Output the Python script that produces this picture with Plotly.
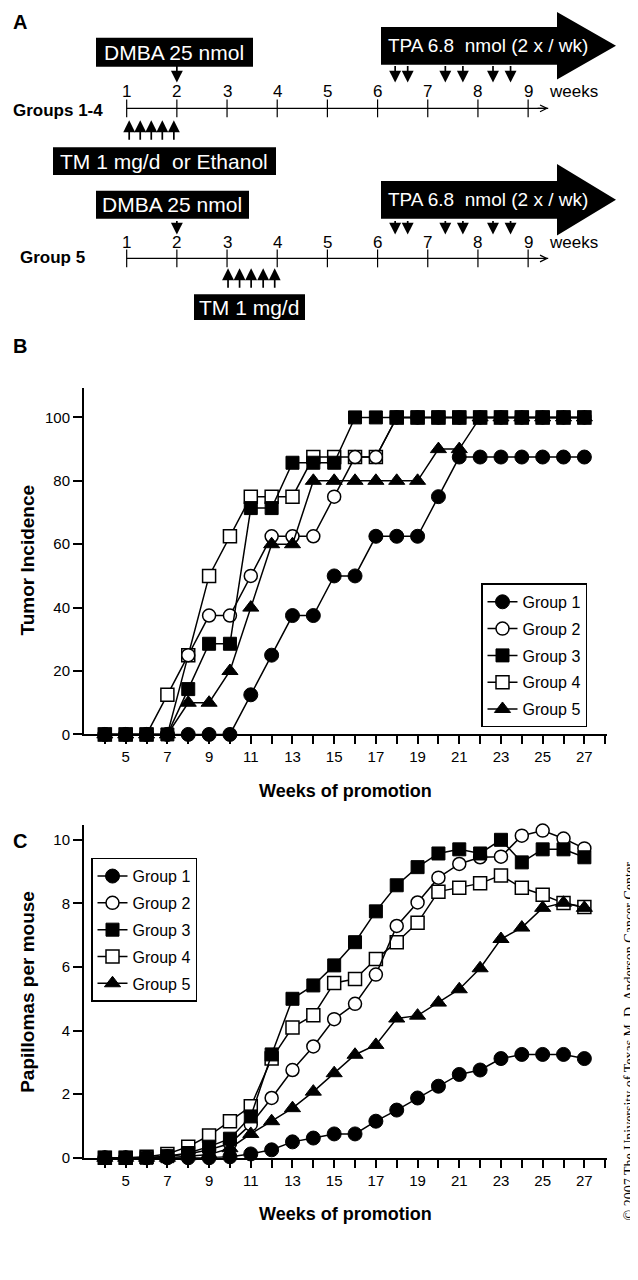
import plotly.graph_objects as go

W, H = 638, 1280
FONT = "Liberation Sans, Arial, Helvetica, sans-serif"
SERIF = "Liberation Serif, Times New Roman, serif"

# ---------------- data ----------------
weeks = list(range(4, 28))
group_names = ["Group 1", "Group 2", "Group 3", "Group 4", "Group 5"]

# Panel B: tumor incidence (%)
inc_g1 = [0, 0, 0, 0, 0, 0, 0, 12.5, 25, 37.5, 37.5, 50, 50, 62.5, 62.5, 62.5, 75, 87.5, 87.5, 87.5, 87.5, 87.5, 87.5, 87.5]
inc_g2 = [0, 0, 0, 0, 25, 37.5, 37.5, 50, 62.5, 62.5, 62.5, 75, 87.5, 87.5, 100, 100, 100, 100, 100, 100, 100, 100, 100, 100]
inc_g3 = [0, 0, 0, 0, 14.3, 28.6, 28.6, 71.4, 71.4, 85.7, 85.7, 85.7, 100, 100, 100, 100, 100, 100, 100, 100, 100, 100, 100, 100]
inc_g4 = [0, 0, 0, 12.5, 25, 50, 62.5, 75, 75, 75, 87.5, 87.5, 87.5, 87.5, 100, 100, 100, 100, 100, 100, 100, 100, 100, 100]
inc_g5 = [0, 0, 0, 0, 10, 10, 20, 40, 60, 60, 80, 80, 80, 80, 80, 80, 90, 90, 100, 100, 100, 100, 100, 100]

# Panel C: papillomas per mouse
pap_g1 = [0, 0, 0, 0, 0, 0, 0.03, 0.12, 0.25, 0.5, 0.62, 0.75, 0.75, 1.15, 1.5, 1.88, 2.25, 2.62, 2.76, 3.12, 3.25, 3.25, 3.25, 3.12]
pap_g2 = [0, 0, 0, 0.05, 0.12, 0.25, 0.45, 1.05, 1.88, 2.76, 3.5, 4.36, 4.84, 5.76, 7.29, 8.03, 8.81, 9.24, 9.45, 9.47, 10.13, 10.29, 10.04, 9.73]
pap_g3 = [0, 0, 0, 0.05, 0.15, 0.35, 0.6, 1.3, 3.25, 5.0, 5.42, 6.05, 6.78, 7.75, 8.57, 9.14, 9.57, 9.7, 9.57, 10.0, 9.29, 9.7, 9.7, 9.45]
pap_g4 = [0, 0, 0.03, 0.12, 0.35, 0.7, 1.15, 1.62, 3.12, 4.1, 4.48, 5.5, 5.62, 6.25, 6.78, 7.39, 8.37, 8.49, 8.63, 8.88, 8.49, 8.27, 8.01, 7.89]
pap_g5 = [0, 0, 0, 0, 0.05, 0.1, 0.3, 0.75, 1.15, 1.56, 2.08, 2.66, 3.24, 3.55, 4.38, 4.47, 4.88, 5.3, 5.96, 6.88, 7.24, 7.86, 8.02, 7.86]

x_tick_weeks = list(range(4, 29))
x_tick_labels = ["5", "7", "9", "11", "13", "15", "17", "19", "21", "23", "25", "27"]
inc_ticks = [0, 20, 40, 60, 80, 100]
pap_ticks = [0, 2, 4, 6, 8, 10]

# Panel A: protocol timeline (weeks)
timeline_weeks = [1, 2, 3, 4, 5, 6, 7, 8, 9]
dmba_week = 2
tm_weeks_g14 = [1.05, 1.27, 1.49, 1.71, 1.94]
tm_weeks_g5 = [3.02, 3.25, 3.48, 3.72, 3.95]
tpa_weeks = [6.35, 6.6, 7.35, 7.7, 8.3, 8.65]

# ---------------- helpers ----------------
def X(p):
    return p / W

def Y(p):
    return 1 - p / H

fig = go.Figure()

styles = [
    dict(symbol="circle", color="black", size=14, lw=1),
    dict(symbol="circle", color="white", size=13, lw=1.5),
    dict(symbol="square", color="black", size=13, lw=1),
    dict(symbol="square", color="white", size=13, lw=1.5),
    dict(symbol="triangle-up", color="black", size=14, lw=1),
]
draw_order = [3, 1, 4, 0, 2]

panels = [
    ([inc_g1, inc_g2, inc_g3, inc_g4, inc_g5], "x", "y", "legend"),
    ([pap_g1, pap_g2, pap_g3, pap_g4, pap_g5], "x2", "y2", "legend2"),
]
for series, xa, ya, leg in panels:
    for i in draw_order:
        s = styles[i]
        fig.add_trace(go.Scatter(
            x=weeks, y=series[i], mode="lines+markers", name=group_names[i],
            line=dict(color="black", width=1.5),
            marker=dict(symbol=s["symbol"], size=s["size"], color=s["color"],
                        line=dict(color="black", width=s["lw"])),
            xaxis=xa, yaxis=ya, legend=leg, legendrank=i + 1,
            legendgroup=f"{leg}_{i}", cliponaxis=False, hoverinfo="skip",
        ))

# dummy trace for protocol axis
fig.add_trace(go.Scatter(x=[timeline_weeks[0]], y=[0.5], mode="markers",
                         marker=dict(size=1, opacity=0), xaxis="x3", yaxis="y3",
                         showlegend=False, hoverinfo="skip"))

ax_common = dict(showline=True, linecolor="black", linewidth=2, ticks="outside",
                 tickcolor="black", tickwidth=2, showgrid=False, zeroline=False,
                 tickfont=dict(size=15, family=FONT, color="black"),
                 layer="below traces", fixedrange=True)

xticktext = [str(w) if str(w) in x_tick_labels else "" for w in x_tick_weeks]
xdom = [76 / W, 599.3 / W]

fig.update_layout(
    width=W, height=H, margin=dict(l=0, r=0, t=0, b=0),
    paper_bgcolor="white", plot_bgcolor="white",
    font=dict(family=FONT, color="black", size=15),
    xaxis=dict(ax_common, domain=xdom, range=[3, 28.1], tickvals=x_tick_weeks,
               ticktext=xticktext, ticklen=8, anchor="y"),
    yaxis=dict(ax_common, domain=[Y(731), Y(382)], range=[0, 109.4],
               tickvals=inc_ticks, ticklen=9, anchor="x"),
    xaxis2=dict(ax_common, domain=xdom, range=[3, 28.1], tickvals=x_tick_weeks,
                ticktext=xticktext, ticklen=8, anchor="y2"),
    yaxis2=dict(ax_common, domain=[Y(1157), Y(822)], range=[0, 10.47],
                tickvals=pap_ticks, ticklen=9, anchor="x2"),
    xaxis3=dict(domain=[0, 1], range=[-1.365, 11.349], visible=False, anchor="y3", fixedrange=True),
    yaxis3=dict(domain=[Y(300), 1], range=[0, 1], visible=False, anchor="x3", fixedrange=True),
    legend=dict(x=X(473), y=Y(579), xanchor="left", yanchor="top",
                bordercolor="black", borderwidth=1.5, bgcolor="white",
                font=dict(size=16, family=FONT), tracegroupgap=3),
    legend2=dict(x=X(83), y=Y(855), xanchor="left", yanchor="top",
                 bordercolor="black", borderwidth=1.5, bgcolor="white",
                 font=dict(size=16, family=FONT), tracegroupgap=3),
)

shapes = []
ann = []

def rect(x0, y0, x1, y1):
    shapes.append(dict(type="rect", xref="paper", yref="paper", x0=X(x0), x1=X(x1),
                       y0=Y(y1), y1=Y(y0), fillcolor="black", line=dict(width=0), layer="above"))

def big_arrow(x0, xh, xt, yb0, yb1, yh0, yh1):
    ym = (yh0 + yh1) / 2
    pts = [(x0, yb0), (xh, yb0), (xh, yh0), (xt, ym), (xh, yh1), (xh, yb1), (x0, yb1)]
    path = "M" + " L".join(f"{X(a):.5f},{Y(b):.5f}" for a, b in pts) + " Z"
    shapes.append(dict(type="path", xref="paper", yref="paper", path=path,
                       fillcolor="black", line=dict(width=0), layer="above"))

def text(x, y, s, size=17, color="black", bold=False, xanchor="center", xref="paper", angle=0, family=FONT):
    ann.append(dict(x=x if xref != "paper" else X(x), y=Y(y), xref=xref, yref="paper", text=s,
                    showarrow=False, xanchor=xanchor, yanchor="middle", textangle=angle,
                    font=dict(size=size, color=color, family=family,
                              weight="bold" if bold else "normal")))

def dose_arrow(w, y_head, length, up=False):
    ann.append(dict(x=w, y=Y(y_head), xref="x3", yref="paper", ax=0,
                    ay=(length if up else -length), axref="pixel", ayref="pixel",
                    text="", showarrow=True, arrowhead=2, arrowsize=1.4,
                    arrowwidth=1.7, arrowcolor="black", standoff=0))

def timeline(y_line, y_num):
    shapes.append(dict(type="line", xref="x3", yref="paper", x0=timeline_weeks[0], x1=9.4,
                       y0=Y(y_line), y1=Y(y_line), line=dict(color="black", width=1.2)))
    ann.append(dict(x=9.4, y=Y(y_line), xref="x3", yref="paper", ax=-12, ay=0,
                    text="", showarrow=True, arrowhead=5, arrowsize=1.2,
                    arrowwidth=1.1, arrowcolor="black", standoff=0))
    for w in timeline_weeks:
        shapes.append(dict(type="line", xref="x3", yref="paper", x0=w, x1=w,
                           y0=Y(y_line - 9), y1=Y(y_line + 9), line=dict(color="black", width=1.2)))
        text(w, y_num, str(w), size=17, xref="x3")
    text(9.9, y_num, "weeks", size=17, xref="x3")

# ---- Panel A, Groups 1-4 ----
big_arrow(373, 549, 608, 19, 57, 4, 72)
text(378, 38, "TPA 6.8\u00a0 nmol (2 x / wk)", size=19, color="white", xanchor="left")
rect(88, 30, 245, 59)
text(166, 45, "DMBA 25 nmol", size=21, color="white")
dose_arrow(dmba_week, 75, 18)
for w in tpa_weeks:
    dose_arrow(w, 75, 18)
timeline(101, 84)
text(3, 103, "Groups 1-4", size=17, bold=True, xanchor="left")
for w in tm_weeks_g14:
    dose_arrow(w, 113, 21, up=True)
rect(45, 140, 268, 168)
text(156, 154, "TM 1 mg/d\u00a0 or Ethanol", size=21, color="white")

# ---- Panel A, Group 5 ----
big_arrow(373, 549, 608, 174, 212, 157, 229)
text(378, 193, "TPA 6.8\u00a0 nmol (2 x / wk)", size=19, color="white", xanchor="left")
rect(88, 184, 241, 212)
text(164, 198, "DMBA 25 nmol", size=21, color="white")
dose_arrow(dmba_week, 228, 15)
for w in tpa_weeks:
    dose_arrow(w, 228, 15)
timeline(252, 236)
text(10, 251, "Group 5", size=17, bold=True, xanchor="left")
for w in tm_weeks_g5:
    dose_arrow(w, 262, 21, up=True)
rect(186, 288, 297, 314)
text(241, 301, "TM 1 mg/d", size=21, color="white")

# ---- panel labels & axis titles ----
text(12, 14, "A", size=20, bold=True)
text(12, 340, "B", size=20, bold=True)
text(12, 838, "C", size=20, bold=True)
text(20, 556, "Tumor Incidence", size=19, bold=True, angle=-90)
text(337, 788, "Weeks of promotion", size=18, bold=True)
text(20, 990, "Papillomas per mouse", size=19, bold=True, angle=-90)
text(337, 1214, "Weeks of promotion", size=18, bold=True)
text(621, 1040, "\u00a9 2007 The University of Texas M. D. Anderson Cancer Center",
     size=14, angle=-90, family=SERIF)

fig.update_layout(shapes=shapes, annotations=ann)
fig.write_html("out.html")
